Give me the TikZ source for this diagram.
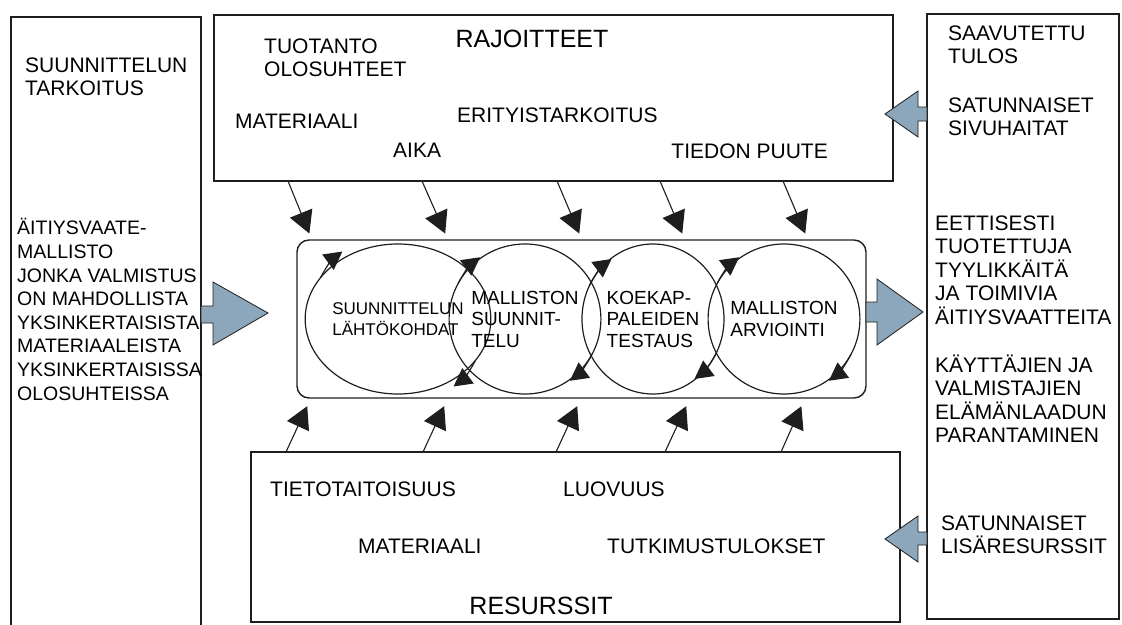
\documentclass[tikz,border=0pt]{standalone}
\usepackage{fontspec}
\setmainfont{Liberation Sans}
\usetikzlibrary{arrows.meta, shapes.geometric}
\definecolor{linegray}{RGB}{30,30,30}
\definecolor{arrowblue}{RGB}{140,167,187}
\tikzset{
  box/.style={rectangle, draw=linegray, line width=1.4pt, inner sep=0pt, outer sep=0pt},
  entry/.style={inner sep=0pt, anchor=base west, align=left,
                font=\fontsize{21}{23.5}\selectfont},
  heading/.style={inner sep=0pt, anchor=base, font=\fontsize{25}{28}\selectfont},
  stage/.style={ellipse, draw=linegray, line width=1.2pt, inner sep=0pt, outer sep=0pt,
                minimum width=142, minimum height=150, align=left,
                font=\fontsize{19}{21.5}\selectfont},
  arrow/.style={-{Triangle[length=22pt, width=24pt]}, line width=1.1pt, draw=linegray},
  turn/.style={-{Triangle[length=18pt, width=19pt]}, line width=1.2pt, draw=linegray},
  bigarrow/.style={fill=arrowblue, draw=linegray, line width=0.8pt, line join=miter}
}

\begin{document}
\begin{tikzpicture}[x=1pt, y=1pt]
\useasboundingbox (0,0) rectangle (1122,-624);

% Frames
\node[box, minimum width=190, minimum height=611] (purpose) at (106,-322.5) {};
\node[box, minimum width=679, minimum height=166] (limits) at (553.5,-98) {};
\node[box, minimum width=192, minimum height=605] (result) at (1023,-316.5) {};
\node[box, minimum width=649, minimum height=170] (resources) at (575.5,-537) {};
\node[box, rounded corners=12pt, minimum width=569, minimum height=158] (process) at (581.5,-319) {};

% Design cycle
\node[stage, font=\fontsize{17}{21}\selectfont] (start) at (398,-319) {SUUNNITTELUN\\LÄHTÖKOHDAT};
\node[stage] (design) at (525,-319) {MALLISTON\\SUUNNIT-\\TELU};
\node[stage] (testing) at (653,-319) {KOEKAP-\\PALEIDEN\\TESTAUS};
\node[stage] (review) at (784,-319) {MALLISTON\\ARVIOINTI};

\foreach \s in {start, design, testing, review} {
  \draw[turn] (\s.152) arc[start angle=152, end angle=125, x radius=71, y radius=75];
  \draw[turn] (\s.-28) arc[start angle=-28, end angle=-55, x radius=71, y radius=75];
}

% Limits -> process, resources -> process
\foreach \a/\b in {288/312, 422/448, 557/582, 660/685, 783/808}
  \draw[arrow, shorten >=7pt] (\a,0 |- limits.south) -- (\b,0 |- process.north);
\foreach \a/\b in {286/311, 423/448, 556/581, 665/690, 781/805}
  \draw[arrow, shorten >=9pt] (\a,0 |- resources.north) -- (\b,0 |- process.south);

% Big arrows
\draw[bigarrow] (purpose.east |- 0,-306) -- (213,-306) -- (213,-282) -- (268,-313)
  -- (213,-345) -- (213,-323) -- (purpose.east |- 0,-323) -- cycle;
\draw[bigarrow] (process.east |- 0,-302) -- (877,-302) -- (877,-279) -- (923,-312)
  -- (877,-345) -- (877,-322) -- (process.east |- 0,-322) -- cycle;
\draw[bigarrow] (result.west |- 0,-107) -- (918,-107) -- (918,-91) -- (885,-114)
  -- (918,-137) -- (918,-121) -- (result.west |- 0,-121) -- cycle;
\draw[bigarrow] (result.west |- 0,-532) -- (918,-532) -- (918,-516) -- (885,-539)
  -- (918,-562) -- (918,-545) -- (result.west |- 0,-545) -- cycle;

% Left frame (base = last line)
\node[entry] (purposetitle) at (25,-95.5) {SUUNNITTELUN\\TARKOITUS};
\node[entry, font=\fontsize{19.5}{23.6}\selectfont] (purposetext) at (17,-400)
  {ÄITIYSVAATE-\\MALLISTO\\JONKA VALMISTUS\\ON MAHDOLLISTA\\YKSINKERTAISISTA\\MATERIAALEISTA\\YKSINKERTAISISSA\\OLOSUHTEISSA};

% Top frame
\node[heading] (limitstitle) at (532,-47) {RAJOITTEET};
\node[entry] (production) at (264,-76.5) {TUOTANTO\\OLOSUHTEET};
\node[entry] (material) at (235,-128) {MATERIAALI};
\node[entry] (time) at (393,-157) {AIKA};
\node[entry] (special) at (457,-122) {ERITYISTARKOITUS};
\node[entry, anchor=base east] (lack) at (828,-158) {TIEDON PUUTE};

% Right frame
\node[entry] (resulttitle) at (948,-63.5) {SAAVUTETTU\\TULOS};
\node[entry] (sideeffects) at (948,-135.5) {SATUNNAISET\\SIVUHAITAT};
\node[entry] (outcome) at (935,-324) {EETTISESTI\\TUOTETTUJA\\TYYLIKKÄITÄ\\JA TOIMIVIA\\ÄITIYSVAATTEITA};
\node[entry] (quality) at (935,-442.5) {KÄYTTÄJIEN JA\\VALMISTAJIEN\\ELÄMÄNLAADUN\\PARANTAMINEN};
\node[entry] (extras) at (941,-553.5) {SATUNNAISET\\LISÄRESURSSIT};

% Bottom frame
\node[entry] (knowhow) at (270,-496) {TIETOTAITOISUUS};
\node[entry] (creativity) at (563,-496) {LUOVUUS};
\node[entry] (materials) at (358,-553) {MATERIAALI};
\node[entry] (findings) at (607,-553) {TUTKIMUSTULOKSET};
\node[heading] (resourcestitle) at (541,-614) {RESURSSIT};

\end{tikzpicture}
\end{document}
